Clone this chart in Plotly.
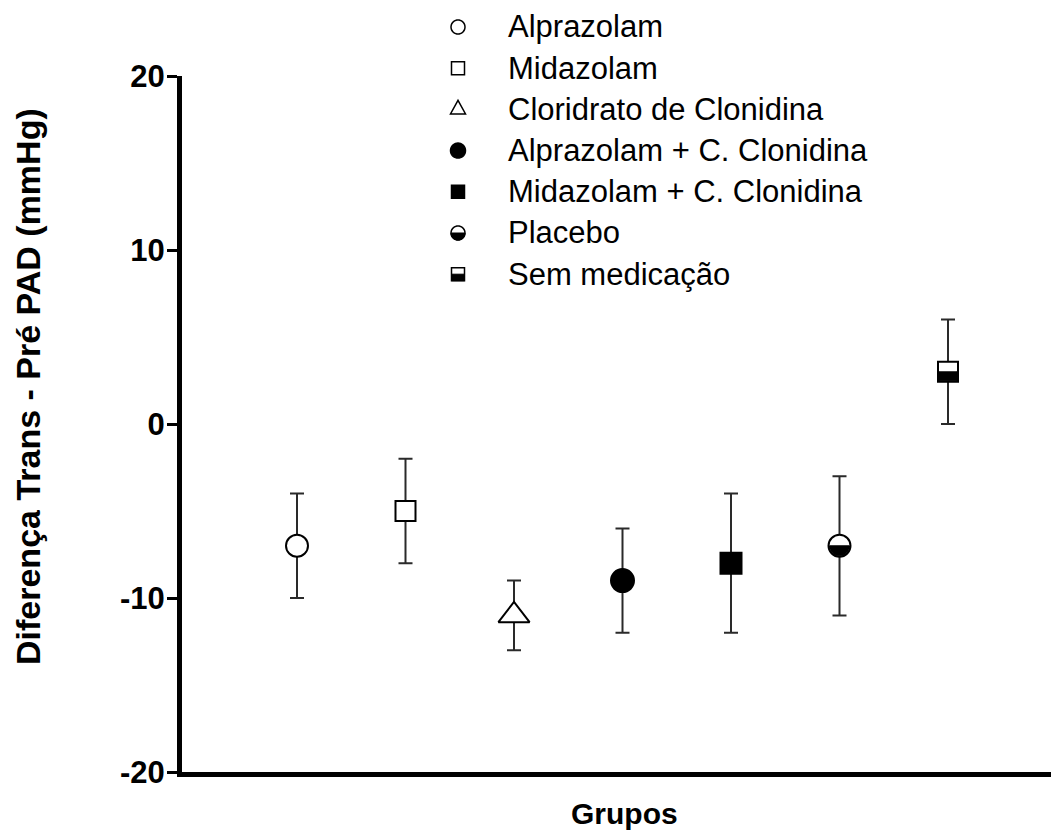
import numpy as np
import plotly.graph_objects as go

# ---------------- data ----------------
groups = ["Alprazolam", "Midazolam", "Cloridrato de Clonidina",
          "Alprazolam + C. Clonidina", "Midazolam + C. Clonidina",
          "Placebo", "Sem medicação"]
positions = [1, 2, 3, 4, 5, 6, 7]
means = [-7, -5, -11, -9, -8, -7, 3]
err_upper = [-4, -2, -9, -6, -4, -3, 6]
err_lower = [-10, -8, -13, -12, -12, -11, 0]
y_ticks = [-20, -10, 0, 10, 20]
y_ticktext = ["-20", "-10", "0", "10", "20"]

# ---------------- styles ----------------
symbols = ["circle", "square", "triangle-up", "circle", "square", "circle", "square"]
kinds = ["open", "open", "open", "filled", "filled", "half", "half"]
sizes = [22, 20, 27, 23, 21, 22, 20]
leg_sizes = [14, 13, 15, 15, 13, 14, 13]

W, H = 1051, 830
ML, MR, MT, MB = 182, 0, 76, 58
PW, PH = W - ML - MR, H - MT - MB
FONT = "Arial, Liberation Sans, sans-serif"

# x scale: x=1 at px 297, x=7 at px 948
px_per = (948 - 297) / 6
x0 = 1 - (297 - ML) / px_per
x1 = x0 + PW / px_per


def px2paper_x(px):
    return (px - ML) / PW


def py2paper_y(py):
    return (MT + PH - py) / PH


fig = go.Figure()
shapes = []
annotations = []

for i, g in enumerate(groups):
    fill = "white" if kinds[i] in ("open", "half") else "black"
    fig.add_trace(go.Scatter(
        x=[positions[i]], y=[means[i]], mode="markers", name=g,
        marker=dict(symbol=symbols[i], size=sizes[i], color=fill,
                    line=dict(color="black", width=2)),
        error_y=dict(type="data", symmetric=False,
                     array=[err_upper[i] - means[i]],
                     arrayminus=[means[i] - err_lower[i]],
                     color="#2a2a2a", thickness=2, width=7),
        showlegend=False, cliponaxis=False,
    ))


def half_circle_path(r, n=24):
    t = np.linspace(np.pi, 2 * np.pi, n)
    pts = [f"{r*np.cos(a):.2f},{r*np.sin(a):.2f}" for a in t]
    return "M " + " L ".join(pts) + " Z"


def circle_path(r, n=36):
    t = np.linspace(0, 2 * np.pi, n, endpoint=False)
    pts = [f"{r*np.cos(a):.2f},{r*np.sin(a):.2f}" for a in t]
    return "M " + " L ".join(pts) + " Z"


def square_path(a):
    return f"M {-a},{-a} L {a},{-a} L {a},{a} L {-a},{a} Z"


def half_square_path(a):
    return f"M {-a},0 L {a},0 L {a},{-a} L {-a},{-a} Z"


def triangle_path(s):
    h = s * 0.9
    return f"M {-s/2:.2f},{-h/3:.2f} L {s/2:.2f},{-h/3:.2f} L 0,{2*h/3:.2f} Z"


# half-filled markers in the plot
for i in range(len(groups)):
    if kinds[i] != "half":
        continue
    r = sizes[i] / 2 - 1
    path = half_circle_path(r) if symbols[i] == "circle" else half_square_path(r)
    shapes.append(dict(type="path", xref="x", yref="y",
                       xsizemode="pixel", ysizemode="pixel",
                       xanchor=positions[i], yanchor=means[i],
                       path=path, fillcolor="black",
                       line=dict(color="black", width=1), layer="above"))

# ---------------- manual legend ----------------
leg_marker_x = 458
leg_text_x = 506
leg_y0 = 27
leg_dy = 41.2
for i, g in enumerate(groups):
    py = leg_y0 + i * leg_dy
    xa = px2paper_x(leg_marker_x)
    ya = py2paper_y(py)
    r = leg_sizes[i] / 2
    fill = "white" if kinds[i] in ("open", "half") else "black"
    if symbols[i] == "circle":
        p = circle_path(r)
    elif symbols[i] == "square":
        p = square_path(r)
    else:
        p = triangle_path(leg_sizes[i])
    shapes.append(dict(type="path", xref="paper", yref="paper",
                       xsizemode="pixel", ysizemode="pixel",
                       xanchor=xa, yanchor=ya, path=p, fillcolor=fill,
                       line=dict(color="black", width=1.5)))
    if kinds[i] == "half":
        hp = half_circle_path(r) if symbols[i] == "circle" else half_square_path(r)
        shapes.append(dict(type="path", xref="paper", yref="paper",
                           xsizemode="pixel", ysizemode="pixel",
                           xanchor=xa, yanchor=ya, path=hp, fillcolor="black",
                           line=dict(color="black", width=1)))
    annotations.append(dict(text=g, xref="paper", yref="paper",
                            x=px2paper_x(leg_text_x), y=ya,
                            xanchor="left", yanchor="middle", showarrow=False,
                            font=dict(family=FONT, size=31, color="black")))

# axis titles
annotations.append(dict(text="<b>Diferença Trans - Pré PAD (mmHg)</b>",
                        xref="paper", yref="paper",
                        x=px2paper_x(28), y=py2paper_y(387),
                        xanchor="center", yanchor="middle", textangle=-90,
                        showarrow=False,
                        font=dict(family=FONT, size=34, color="black")))
annotations.append(dict(text="<b>Grupos</b>", xref="paper", yref="paper",
                        x=px2paper_x(624.5), y=py2paper_y(813),
                        xanchor="center", yanchor="middle", showarrow=False,
                        font=dict(family=FONT, size=30, color="black")))

fig.update_layout(
    width=W, height=H,
    margin=dict(l=ML, r=MR, t=MT, b=MB, pad=0),
    paper_bgcolor="white", plot_bgcolor="white",
    showlegend=False,
    shapes=shapes, annotations=annotations,
    xaxis=dict(range=[x0, x1], showgrid=False, zeroline=False,
               showticklabels=False, ticks="", showline=True,
               linecolor="black", linewidth=5),
    yaxis=dict(range=[-20, 20], tickvals=y_ticks, ticktext=y_ticktext,
               showgrid=False, zeroline=False, showline=True,
               linecolor="black", linewidth=5, ticks="outside",
               ticklen=10, tickwidth=3, tickcolor="black",
               ticklabelstandoff=-4,
               tickfont=dict(family=FONT, size=31, color="black", weight="bold")),
)

fig.write_html("out.html")
